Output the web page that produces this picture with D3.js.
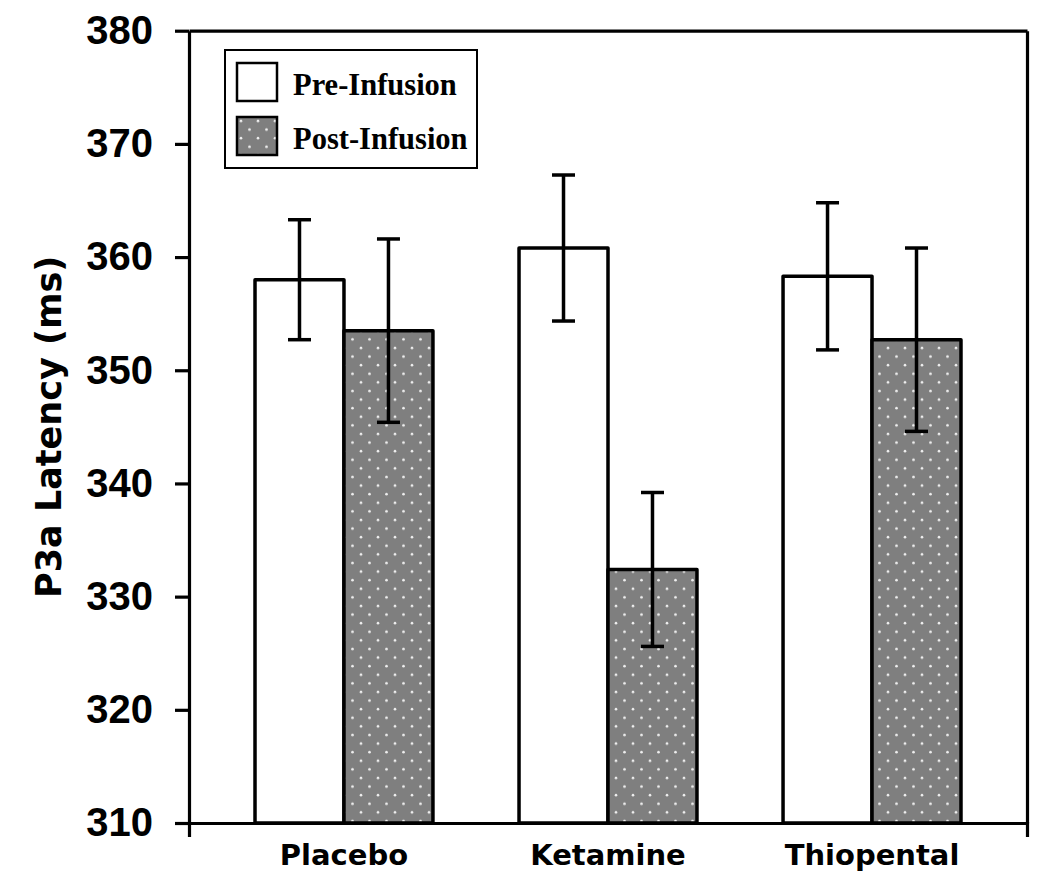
<!DOCTYPE html>
<html>
<head>
<meta charset="utf-8">
<script src="https://d3js.org/d3.v7.min.js"></script>
<style>
  body { margin: 0; background: #fff; }
  .ax path, .ax line { stroke: #000; stroke-width: 3.2; }
</style>
</head>
<body>
<script>
// values
var categories = ["Placebo", "Ketamine", "Thiopental"];
var preInfusion = [358.0, 360.8, 358.3];
var postInfusion = [353.5, 332.4, 352.7];
var preErr = [5.3, 6.45, 6.5];
var postErr = [8.1, 6.8, 8.1];
var yTicks = [310, 320, 330, 340, 350, 360, 370, 380];
var seriesNames = ["Pre-Infusion", "Post-Infusion"];

var width = 1050, height = 888;
// plot box (note: "top" is taken by window.top, so prefix these)
var plotLeft = 189, plotRight = 1027, plotTop = 30.7, plotBottom = 823;

var svg = d3.select("body").append("svg")
  .attr("width", width)
  .attr("height", height);

// dotted grey fill for the post bars
var defs = svg.append("defs");
var pat = defs.append("pattern")
  .attr("id", "dots")
  .attr("patternUnits", "userSpaceOnUse")
  .attr("width", 17).attr("height", 17.2);
pat.append("rect").attr("width", 17).attr("height", 17.2).attr("fill", "#7f7f7f");
pat.append("circle").attr("cx", 4).attr("cy", 4).attr("r", 1.3).attr("fill", "#eeeeee");
pat.append("circle").attr("cx", 12.5).attr("cy", 12.6).attr("r", 1.3).attr("fill", "#eeeeee");

var x = d3.scaleBand()
  .domain(categories)
  .range([plotLeft, plotRight])
  .paddingInner(0.326)
  .paddingOuter(0.25);

var sub = d3.scaleBand()
  .domain([0, 1])
  .range([0, x.bandwidth()]);

var y = d3.scaleLinear()
  .domain([310, 380])
  .range([plotBottom, plotTop]);

var flat = [];
categories.forEach(function(c, i) {
  flat.push({cat: c, s: 0, v: preInfusion[i], e: preErr[i]});
  flat.push({cat: c, s: 1, v: postInfusion[i], e: postErr[i]});
});

function mid(d) { return x(d.cat) + sub(d.s) + sub.bandwidth() / 2; }

// bars
svg.append("g").selectAll("rect")
  .data(flat)
  .enter().append("rect")
  .attr("x", function(d) { return x(d.cat) + sub(d.s); })
  .attr("y", function(d) { return y(d.v); })
  .attr("width", sub.bandwidth())
  .attr("height", function(d) { return y(310) - y(d.v); })
  .attr("fill", function(d) { return d.s ? "url(#dots)" : "#fff"; })
  .attr("stroke", "#000")
  .attr("stroke-width", 3.5)
  .attr("stroke-linejoin", "round");

// error bars
var eb = svg.append("g").selectAll("g")
  .data(flat)
  .enter().append("g")
  .attr("stroke", "#000")
  .attr("stroke-width", 3.5);
eb.append("line")
  .attr("x1", mid)
  .attr("x2", mid)
  .attr("y1", function(d) { return y(d.v - d.e); })
  .attr("y2", function(d) { return y(d.v + d.e); });
[1, -1].forEach(function(sign) {
  eb.append("line")
    .attr("x1", function(d) { return mid(d) - 11.5; })
    .attr("x2", function(d) { return mid(d) + 11.5; })
    .attr("y1", function(d) { return y(d.v + sign * d.e); })
    .attr("y2", function(d) { return y(d.v + sign * d.e); });
});

// frame: top and right
svg.append("g").attr("class", "ax")
  .attr("transform", "translate(0," + plotTop + ")")
  .call(d3.axisTop(x).tickSize(0).tickSizeOuter(0).tickFormat(""));
svg.append("g").attr("class", "ax")
  .attr("transform", "translate(" + plotRight + ",0)")
  .call(d3.axisRight(y).tickValues([]).tickSizeOuter(0));

// y axis
var yAx = svg.append("g").attr("class", "ax")
  .attr("transform", "translate(" + plotLeft + ",0)")
  .call(d3.axisLeft(y).tickValues(yTicks).tickSize(14).tickSizeOuter(0).tickPadding(22));
yAx.selectAll("text")
  .attr("fill", "#000")
  .style("font-family", "'Liberation Sans', Arial, sans-serif")
  .style("font-weight", "bold")
  .style("font-size", "40px");

// x axis
var xAx = svg.append("g").attr("class", "ax")
  .attr("transform", "translate(0," + plotBottom + ")")
  .call(d3.axisBottom(x).tickSize(0).tickSizeOuter(14).tickPadding(21));
xAx.selectAll("text")
  .attr("fill", "#000")
  .style("font-family", "'DejaVu Sans', sans-serif")
  .style("font-weight", "bold")
  .style("font-size", "29px");

// y title
svg.append("text")
  .attr("transform", "translate(61," + ((plotTop + plotBottom) / 2) + ") rotate(-90)")
  .attr("text-anchor", "middle")
  .style("font-family", "'DejaVu Sans', sans-serif")
  .style("font-weight", "bold")
  .style("font-size", "35px")
  .text("P3a Latency (ms)");

// legend
var lg = svg.append("g");
lg.append("rect")
  .attr("x", 225).attr("y", 50)
  .attr("width", 252).attr("height", 118)
  .attr("fill", "#fff").attr("stroke", "#000").attr("stroke-width", 2);
var items = lg.selectAll("g.item")
  .data(seriesNames)
  .enter().append("g")
  .attr("class", "item")
  .attr("transform", function(d, i) { return "translate(237," + (63 + i * 54) + ")"; });
items.append("rect")
  .attr("width", 40).attr("height", 38)
  .attr("fill", function(d, i) { return i ? "url(#dots)" : "#fff"; })
  .attr("stroke", "#000").attr("stroke-width", 2.5);
items.append("text")
  .attr("x", 56).attr("y", 32)
  .style("font-family", "'Liberation Serif', 'Times New Roman', serif")
  .style("font-weight", "bold")
  .style("font-size", "30.5px")
  .text(function(d) { return d; });
</script>
</body>
</html>
